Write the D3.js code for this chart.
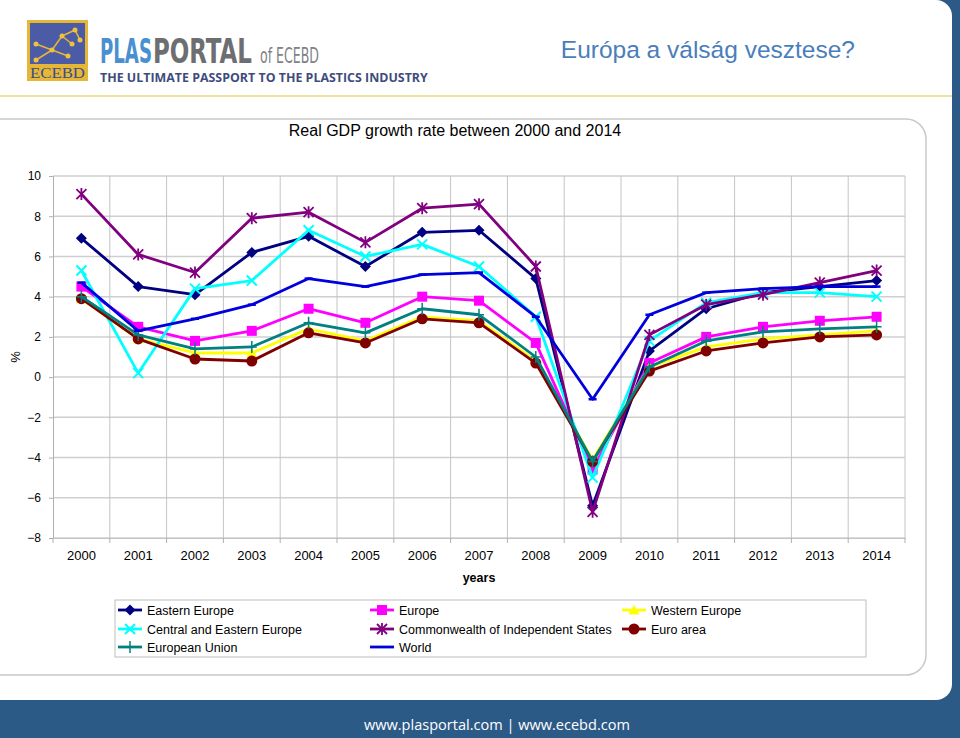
<!DOCTYPE html>
<html><head><meta charset="utf-8">
<script src="https://cdn.jsdelivr.net/npm/d3@7"></script>
<style>body{margin:0;background:#fff}svg{display:block}</style>
</head><body>
<svg id="c" width="960" height="738"></svg>
<script>
const years = ["2000","2001","2002","2003","2004","2005","2006","2007","2008","2009","2010","2011","2012","2013","2014"];
const yTicks = [-8,-6,-4,-2,0,2,4,6,8,10];
const seriesNames = ["Eastern Europe","Europe","Western Europe","Central and Eastern Europe","Commonwealth of Independent States","Euro area","European Union","World"];
const easternEurope = [6.9,4.5,4.1,6.2,7.0,5.5,7.2,7.3,4.9,-6.4,1.3,3.4,4.2,4.5,4.8];
const europe = [4.5,2.5,1.8,2.3,3.4,2.7,4.0,3.8,1.7,-4.6,0.7,2.0,2.5,2.8,3.0];
const westernEurope = [3.9,1.9,1.2,1.2,2.4,1.8,3.0,2.8,0.8,-4.1,0.5,1.5,1.9,2.1,2.3];
const centralEasternEurope = [5.3,0.2,4.4,4.8,7.3,6.0,6.6,5.5,3.0,-5.0,1.8,3.7,4.2,4.2,4.0];
const cis = [9.1,6.1,5.2,7.9,8.2,6.7,8.4,8.6,5.5,-6.7,2.1,3.6,4.1,4.7,5.3];
const euroArea = [3.9,1.9,0.9,0.8,2.2,1.7,2.9,2.7,0.7,-4.2,0.3,1.3,1.7,2.0,2.1];
const europeanUnion = [4.0,2.1,1.4,1.5,2.7,2.2,3.4,3.1,1.0,-4.2,0.5,1.8,2.25,2.4,2.5];
const world = [4.7,2.3,2.9,3.6,4.9,4.5,5.1,5.2,3.0,-1.1,3.1,4.2,4.4,4.5,4.5];
const seriesValues = [easternEurope,europe,westernEurope,centralEasternEurope,cis,euroArea,europeanUnion,world];
const seriesColors = ["#000080","#ff00ff","#ffff00","#00ffff","#800080","#800000","#008080","#0000dd"];
const seriesMarkers = ["diamond","square","triangle","x","star","circle","plus","dash"];

const svg = d3.select("#c");
svg.append("rect").attr("width",960).attr("height",738).attr("fill","#2c5a87");
svg.append("rect").attr("x",-30).attr("y",0).attr("width",982).attr("height",700).attr("rx",16).attr("fill","#fff");
svg.append("line").attr("x1",0).attr("x2",952).attr("y1",96).attr("y2",96).attr("stroke","#e8d67c").attr("stroke-width",1.5);

function fitText(xPos, yPos, width, str, attrs, sy){
  const g = svg.append("g");
  const t = g.append("text").attr("x",0).attr("y",0).text(str);
  Object.entries(attrs).forEach(([k,v])=>t.attr(k,v));
  const w = t.node().getComputedTextLength();
  g.attr("transform",`translate(${xPos},${yPos}) scale(${width/w},${sy||1})`);
  return t;
}

const logo = svg.append("g");
logo.append("rect").attr("x",27).attr("y",20).attr("width",61).attr("height",61).attr("fill","#e5b737");
logo.append("rect").attr("x",30).attr("y",23).attr("width",55).attr("height",41).attr("fill","#4c5ba6");
const net = [[36,44,52,50],[52,50,62,36],[62,36,75,30],[62,36,72,44],[36,60,52,50],[52,50,68,56],[75,30,80,40]];
net.forEach(d=>logo.append("line").attr("x1",d[0]).attr("y1",d[1]).attr("x2",d[2]).attr("y2",d[3]).attr("stroke","#e5b737").attr("stroke-width",1.5));
[[36,44],[52,50],[62,36],[75,30],[72,44],[36,60],[68,56],[80,40]].forEach(d=>logo.append("circle").attr("cx",d[0]).attr("cy",d[1]).attr("r",2.5).attr("fill","#f0c040"));
fitText(30, 78, 55, "ECEBD", {"font-family":"Liberation Serif, serif","font-size":15,"fill":"#3b4a8c"});
const logoFont = "Liberation Sans Narrow, DejaVu Sans Condensed, sans-serif";
fitText(100, 63, 52, "PLAS", {"font-family":logoFont,"font-weight":"bold","font-size":30,"fill":"#4a8fd0"}, 1.15);
fitText(153, 63, 99, "PORTAL", {"font-family":logoFont,"font-weight":"bold","font-size":30,"fill":"#6d6e71"}, 1.15);
fitText(260, 63, 59, "of ECEBD", {"font-family":logoFont,"font-size":20,"fill":"#808285"}, 1.05);
fitText(100, 82, 328, "THE ULTIMATE PASSPORT TO THE PLASTICS INDUSTRY", {"font-family":"Open Sans, Liberation Sans, sans-serif","font-weight":"bold","font-size":11,"fill":"#3e4c7c"}, 1.05);

svg.append("text").attr("x",855).attr("y",58).attr("text-anchor","end").attr("font-family","Liberation Sans, Arial, sans-serif").attr("font-size",24.5).attr("fill","#4a7ebb").text("Európa a válság vesztese?");

svg.append("rect").attr("x",-20).attr("y",119).attr("width",946).attr("height",556).attr("rx",20).attr("fill","#fff").attr("stroke","#c9c9c9").attr("stroke-width",1.5);

svg.append("text").attr("x",455).attr("y",136).attr("text-anchor","middle").attr("font-family","Liberation Sans, Arial, sans-serif").attr("font-size",16).attr("fill","#000").text("Real GDP growth rate between 2000 and 2014");

const x = d3.scaleBand().domain(years).range([53,905]).padding(0);
const y = d3.scaleLinear().domain([-8,10]).range([538,176]);

const g = svg.append("g");
g.selectAll(".hg").data(yTicks).join("line").attr("x1",53).attr("x2",905).attr("y1",d=>y(d)).attr("y2",d=>y(d)).attr("stroke","#cfcfcf").attr("stroke-width",1.5);
const bounds = years.map(d=>x(d)).concat([x(years[years.length-1])+x.bandwidth()]);
g.selectAll(".vg").data(bounds.slice(1)).join("line").attr("x1",d=>d).attr("x2",d=>d).attr("y1",176).attr("y2",538).attr("stroke","#c4c4c4").attr("stroke-width",1);

const yAxis = d3.axisLeft(y).tickValues(yTicks).tickSize(4).tickPadding(8);
const ya = svg.append("g").attr("transform","translate(53,0)").call(yAxis);
ya.select(".domain").attr("stroke","#b0b0b0");
ya.selectAll(".tick line").attr("stroke","#b0b0b0");
ya.selectAll("text").attr("font-family","Liberation Sans, Arial, sans-serif").attr("font-size",12).attr("fill","#000");

const xAxis = d3.axisBottom(x).tickSize(0).tickPadding(13);
const xa = svg.append("g").attr("transform","translate(0,538)").call(xAxis);
xa.select(".domain").attr("stroke","#c4c4c4");
xa.selectAll("text").attr("font-family","Liberation Sans, Arial, sans-serif").attr("font-size",13).attr("fill","#000");
svg.append("g").selectAll("line").data(bounds).join("line").attr("x1",d=>d).attr("x2",d=>d).attr("y1",538).attr("y2",543).attr("stroke","#b0b0b0");

svg.append("text").attr("x",479).attr("y",582).attr("text-anchor","middle").attr("font-family","Liberation Sans, Arial, sans-serif").attr("font-weight","bold").attr("font-size",12.5).text("years");
svg.append("text").attr("transform","translate(20,357) rotate(-90)").attr("text-anchor","middle").attr("font-family","Liberation Sans, Arial, sans-serif").attr("font-size",13).text("%");

function drawMarker(sel, type, color){
  if(type==="diamond") sel.append("path").attr("d","M0,-5.5L5.5,0L0,5.5L-5.5,0Z").attr("fill",color);
  else if(type==="square") sel.append("path").attr("d","M-5,-5H5V5H-5Z").attr("fill",color);
  else if(type==="triangle") sel.append("path").attr("d","M0,-5L5.5,4.5H-5.5Z").attr("fill",color);
  else if(type==="circle") sel.append("circle").attr("r",5.5).attr("fill",color);
  else if(type==="x") sel.append("path").attr("d","M-5,-5L5,5M-5,5L5,-5").attr("stroke",color).attr("stroke-width",2).attr("fill","none");
  else if(type==="star") sel.append("path").attr("d","M-5,-5L5,5M-5,5L5,-5M0,-6V6").attr("stroke",color).attr("stroke-width",1.8).attr("fill","none");
  else if(type==="plus") sel.append("path").attr("d","M-5,0H5M0,-6V6").attr("stroke",color).attr("stroke-width",1.5).attr("fill","none");
  else if(type==="dash") sel.append("path").attr("d","M-4,0H4").attr("stroke",color).attr("stroke-width",2.5).attr("fill","none");
}

const line = d3.line().x((d,i)=>x(years[i])+x.bandwidth()/2).y(d=>y(d));
const plot = svg.append("g");
seriesValues.forEach((vals,si)=>{
  const sg = plot.append("g");
  sg.append("path").datum(vals).attr("d",line).attr("fill","none").attr("stroke",seriesColors[si]).attr("stroke-width",2.8).attr("stroke-linejoin","round");
  vals.forEach((v,i)=>{
    const m = sg.append("g").attr("transform",`translate(${x(years[i])+x.bandwidth()/2},${y(v)})`);
    drawMarker(m, seriesMarkers[si], seriesColors[si]);
  });
});

svg.append("rect").attr("x",115).attr("y",600).attr("width",751).attr("height",57).attr("fill","#fff").attr("stroke","#bdbdbd").attr("stroke-width",1);
const colX = [118,370,622], rowY = [610,629,647];
seriesNames.forEach((name,i)=>{
  const cx = colX[i%3], cy = rowY[Math.floor(i/3)];
  const lg = svg.append("g").attr("transform",`translate(${cx},${cy})`);
  lg.append("line").attr("x1",0).attr("x2",24).attr("stroke",seriesColors[i]).attr("stroke-width",2.8);
  const m = lg.append("g").attr("transform","translate(12,0)");
  if(seriesMarkers[i]!=="dash") drawMarker(m, seriesMarkers[i], seriesColors[i]);
  lg.append("text").attr("x",29).attr("y",4.5).attr("font-family","Liberation Sans, Arial, sans-serif").attr("font-size",12.5).attr("fill","#000").text(name);
});

fitText(364, 730, 266, "www.plasportal.com | www.ecebd.com", {"font-family":"Open Sans, Liberation Sans, sans-serif","font-size":15,"fill":"#fff"});
</script>
</body></html>
